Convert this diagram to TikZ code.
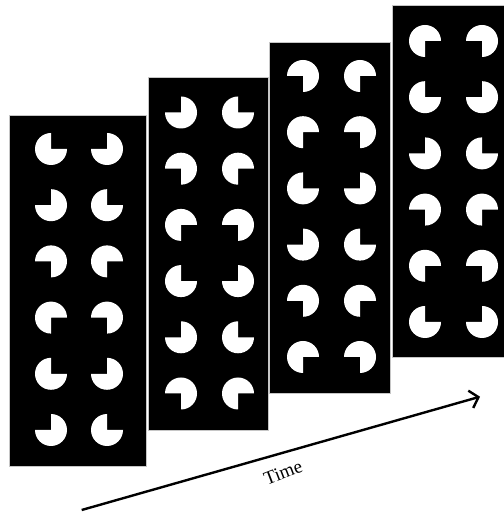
\documentclass[tikz,border=0pt]{standalone}
\usepackage{fontspec}
\setmainfont{Liberation Serif}
\usetikzlibrary{arrows.meta}
\begin{document}
\begin{tikzpicture}[x=1pt,y=1pt,
  panel/.style={fill=black, draw=gray!45, line width=0.8pt},
  pac/.style={fill=white},
  timeline/.style={line width=2.4pt, -{Straight Barb[length=8pt,width=18pt]}},
  timelabel/.style={font=\fontsize{19}{21}\selectfont, rotate=21, inner sep=0pt}]
\useasboundingbox (0,0) rectangle (503,516);
% panels (image coordinates, y measured from top)
\foreach \xa/\ya/\xb/\yb/\n in {9/115/146/466/p1, 148/77/268/430/p2, 269/42/390/393/p3, 392/5/504/357/p4}
  \path[panel] (\xa,{516-\ya}) rectangle (\xb,{516-\yb});
% pacman inducers
\foreach \p/\xl/\xr/\yo in {0/51/107/149, 1/181/238/112.5, 2/303/360/76, 3/425/482/41} {
  \foreach \k in {0,...,5} {
    \pgfmathtruncatemacro\t{mod(\p+\k,4)}
    \pgfmathsetmacro\yy{516-(\yo+56.2*\k)}
    \ifcase\t \def\al{0}\def\ar{90}\or \def\al{90}\def\ar{0}\or \def\al{180}\def\ar{270}\or \def\al{270}\def\ar{180}\fi
    \fill[pac] (\xl,\yy) -- ++({\al+90}:16) arc[start angle={\al+90}, end angle={\al+360}, radius=16] -- cycle;
    \fill[pac] (\xr,\yy) -- ++({\ar+90}:16) arc[start angle={\ar+90}, end angle={\ar+360}, radius=16] -- cycle;
  }
}
% time arrow
\coordinate (tstart) at (81.7,6);
\coordinate (tend) at (480,119.3);
\draw[timeline] (tstart) -- (tend);
\node[timelabel] (time) at (283,43.5) {Time};
\end{tikzpicture}
\end{document}
